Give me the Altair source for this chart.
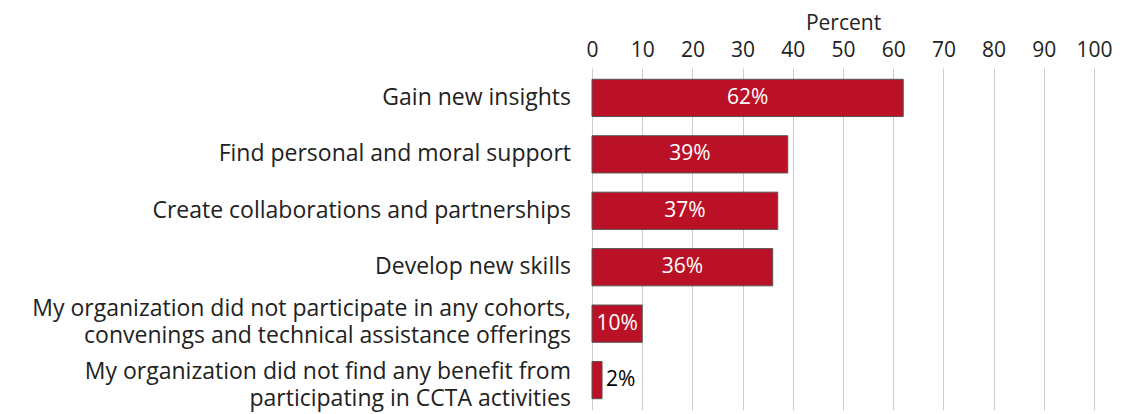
import altair as alt
import pandas as pd

categories = [
    "Gain new insights",
    "Find personal and moral support",
    "Create collaborations and partnerships",
    "Develop new skills",
    "My organization did not participate in any cohorts,|convenings and technical assistance offerings",
    "My organization did not find any benefit from|participating in CCTA activities",
]
values = [62, 39, 37, 36, 10, 2]
x_ticks = [0, 10, 20, 30, 40, 50, 60, 70, 80, 90, 100]

df = pd.DataFrame({"cat": categories, "val": values})
df["label"] = df["val"].astype(str) + "%"
df["inside"] = df["val"] >= 5
df["mid"] = df["val"] / 2
df["idx"] = range(len(categories))
df["multi"] = df["cat"].str.contains("|", regex=False)

FONT = "Open Sans"
TXT = "#222222"

y_scale = alt.Scale(paddingInner=0.34, paddingOuter=0.2)

y_enc = alt.Y("cat:N", sort=categories, title=None, scale=y_scale, axis=None)

x_enc = alt.X(
    "val:Q",
    title="Percent",
    scale=alt.Scale(domain=[0, 100], nice=False),
    axis=alt.Axis(
        orient="top",
        values=x_ticks,
        labelFontSize=21,
        labelFont=FONT,
        labelColor=TXT,
        labelPadding=8,
        labelFlush=False,
        labelOverlap=False,
        titleFontSize=21,
        titleFont=FONT,
        titleFontWeight="normal",
        titleColor=TXT,
        titlePadding=6,
        ticks=False,
        domain=False,
        grid=True,
        gridColor="#cccccc",
        gridWidth=1,
    ),
)

bars = alt.Chart(df).mark_bar(
    color="#BA1126", stroke="#555555", strokeWidth=1
).encode(x=x_enc, y=y_enc)

ylab_single = alt.Chart(df).transform_filter("!datum.multi").mark_text(
    color=TXT, fontSize=23, font=FONT, align="right", baseline="middle"
).encode(
    x=alt.value(-21),
    y=alt.Y("cat:N", sort=categories),
    text="cat:N",
)


def multi_layer(index, dy):
    return alt.Chart(df).transform_filter(f"datum.idx == {index}").transform_calculate(
        lines="split(datum.cat, '|')"
    ).mark_text(
        color=TXT, fontSize=23, font=FONT, align="right", baseline="middle",
        lineHeight=27, dy=dy,
    ).encode(
        x=alt.value(-21),
        y=alt.Y("cat:N", sort=categories),
        text="lines:N",
    )


ylab_multi5 = multi_layer(4, -15)
ylab_multi6 = multi_layer(5, -8)

text_in = alt.Chart(df).transform_filter("datum.inside").mark_text(
    color="white", fontSize=21, font=FONT, align="center", baseline="middle"
).encode(x="mid:Q", y=alt.Y("cat:N", sort=categories), text="label:N")

text_out = alt.Chart(df).transform_filter("!datum.inside").mark_text(
    color="black", fontSize=21, font=FONT, align="left", baseline="middle", dx=4
).encode(x="val:Q", y=alt.Y("cat:N", sort=categories), text="label:N")

chart = alt.layer(
    bars, ylab_single, ylab_multi5, ylab_multi6, text_in, text_out
).properties(
    width=502,
    height=342,
    padding={"left": 584, "top": 60, "right": 20, "bottom": 4},
    autosize=alt.AutoSizeParams(type="none"),
).configure_view(stroke=None)

chart.save("out.html", embed_options={"renderer": "svg", "actions": False})
